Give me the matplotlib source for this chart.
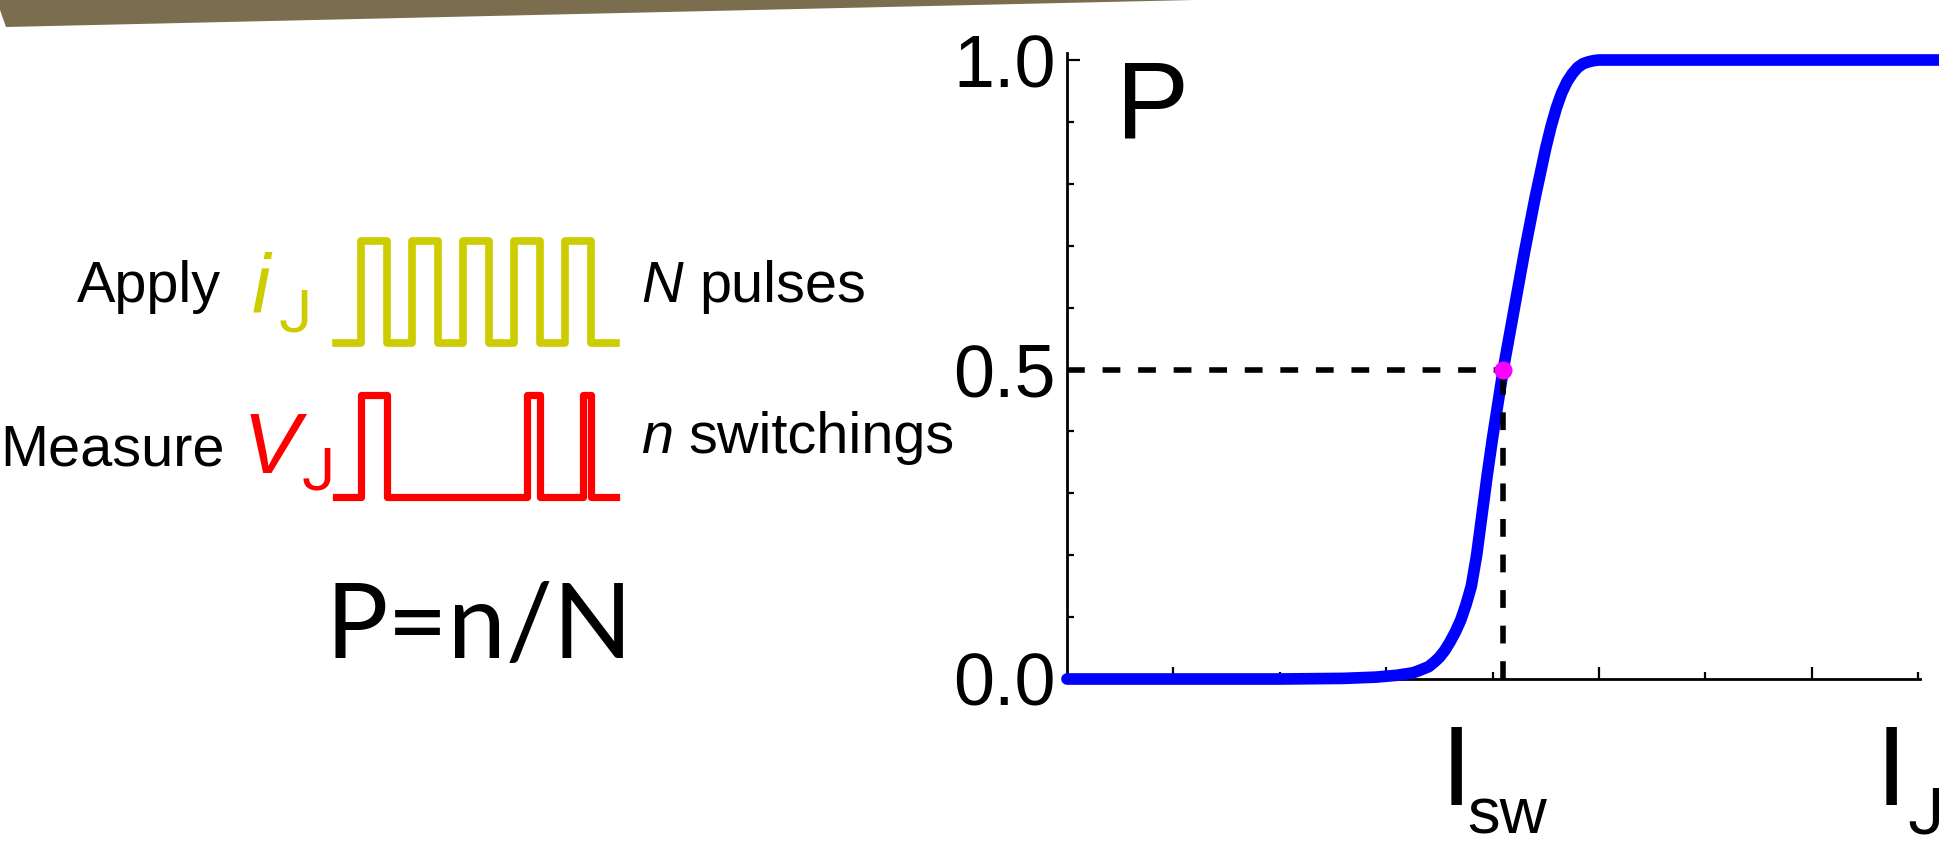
import numpy as np
from matplotlib import pyplot as plt

plt.rcParams['font.family'] = ['Liberation Sans', 'DejaVu Sans']

# switching probability curve (x in tick units)
current = [0.0, 1.0, 2.0, 2.6, 2.9, 3.1, 3.25, 3.3, 3.4, 3.45, 3.5, 3.55, 3.6, 3.65,
           3.7, 3.75, 3.8, 3.85, 3.9, 3.95, 4.0, 4.1, 4.2, 4.3, 4.4, 4.5, 4.55, 4.6,
           4.65, 4.7, 4.75, 4.8, 4.85, 4.9, 4.95, 5.0, 5.1, 6.0, 7.0, 8.2]
prob = [0.0, 0.0, 0.0, 0.001, 0.003, 0.006, 0.010, 0.013, 0.020, 0.027, 0.035, 0.046,
        0.060, 0.076, 0.095, 0.120, 0.150, 0.200, 0.265, 0.330, 0.390, 0.500, 0.595,
        0.690, 0.778, 0.858, 0.893, 0.923, 0.947, 0.965, 0.978, 0.988, 0.994, 0.997,
        0.999, 1.0, 1.0, 1.0, 1.0, 1.0]
i_sw = 4.1
p_half = 0.5
y_ticks = [0.0, 0.5, 1.0]
y_labels = ['0.0', '0.5', '1.0']

# pulse trains: edge times and levels
applied_t = [0, 1, 2, 3, 4, 5, 6, 7, 8, 9, 10, 11]
applied_level = [0, 1, 0, 1, 0, 1, 0, 1, 0, 1, 0, 0]
measured_t = [0, 1, 2, 7.5, 8, 9.7, 10, 11]
measured_level = [0, 1, 0, 1, 0, 1, 0, 0]

W, H = 1940, 848
fig = plt.figure(figsize=(W / 100, H / 100), dpi=100)

# background layer in pixel coords for the banner and the text
bg = fig.add_axes([0, 0, 1, 1])
bg.set_xlim(0, W)
bg.set_ylim(H, 0)
bg.axis('off')
bg.fill([0, 1194, 6, 0], [0, 0, 27, 10], color='#7a6e4f', lw=0)

lbl = 41.5
sub = ['Roboto', 'DejaVu Sans']
bg.text(77, 302, 'Apply', fontsize=lbl, va='baseline')
bg.text(0, 465, 'Measure', fontsize=lbl, va='baseline')
bg.text(641, 302, 'N', fontsize=lbl, style='italic', va='baseline')
bg.text(699, 302, 'pulses', fontsize=lbl, va='baseline')
bg.text(641, 453, 'n', fontsize=lbl, style='italic', va='baseline')
bg.text(688, 453, 'switchings', fontsize=lbl, va='baseline')
bg.text(252, 313, 'i', fontsize=60, style='italic', color='#cccc00', va='baseline')
bg.text(279, 332, 'J', fontsize=43, color='#cccc00', family=sub, va='baseline')
bg.text(243, 473, 'V', fontsize=62, style='italic', color='#ff0000', va='baseline')
bg.text(302, 489, 'J', fontsize=43, color='#ff0000', family=sub, va='baseline')
bg.text(326, 658, 'P=n/N', fontsize=75, family=['Lato', 'DejaVu Sans'], va='baseline')
bg.text(1116, 137, 'P', fontsize=79, va='baseline')
bg.text(1441, 805, 'I', fontsize=81, va='baseline')
bg.text(1467, 834, 'sw', fontsize=47, va='baseline')
bg.text(1876, 805, 'I', fontsize=81, va='baseline')
bg.text(1907, 834, 'J', fontsize=47, family=sub, va='baseline')

# pulse trains
pa = fig.add_axes([336 / W, (H - 497) / H, 280 / W, 256 / H])
pa.set_xlim(0, 11)
pa.set_ylim(0, 2.5)
pa.axis('off')
pa.step(applied_t, np.array(applied_level) + 1.5, where='post', color='#cccc00',
        lw=5.5, clip_on=False)
pa.step(measured_t, measured_level, where='post', color='#ff0000', lw=5.2, clip_on=False)

# probability plot
ax = fig.add_axes([1067 / W, (H - 679) / H, (1920 - 1067) / W, (679 - 53) / H])
ax.set_xlim(0, 853 / 106.4)
ax.set_ylim(0, 626 / 619)
ax.patch.set_alpha(0)
for s in ['top', 'right']:
    ax.spines[s].set_visible(False)
for s in ['left', 'bottom']:
    ax.spines[s].set_linewidth(2)
ax.set_yticks(y_ticks)
ax.set_yticklabels(y_labels)
ax.set_yticks(np.arange(0, 1.01, 0.1), minor=True)
ax.set_xticks([1, 3, 5, 7])
ax.set_xticks([2, 4, 6, 8], minor=True)
ax.set_xticklabels([])
ax.tick_params(which='major', direction='in', length=9, width=1.6, labelsize=53, pad=8)
ax.tick_params(which='minor', direction='in', length=5, width=1.6)

ax.plot(current, prob, color='#0000ff', lw=8.4, solid_capstyle='round',
        solid_joinstyle='round', clip_on=False, zorder=3)
ax.plot([0, i_sw], [p_half, p_half], color='k', lw=4, dashes=(3.2, 3.2), zorder=4)
ax.plot([i_sw, i_sw], [0, p_half], color='k', lw=4, dashes=(3.2, 3.2), zorder=4)
ax.plot([i_sw], [p_half], 'o', color='#ff00ff', ms=13, mec='none', zorder=5)

plt.savefig('out.png', dpi=100)
